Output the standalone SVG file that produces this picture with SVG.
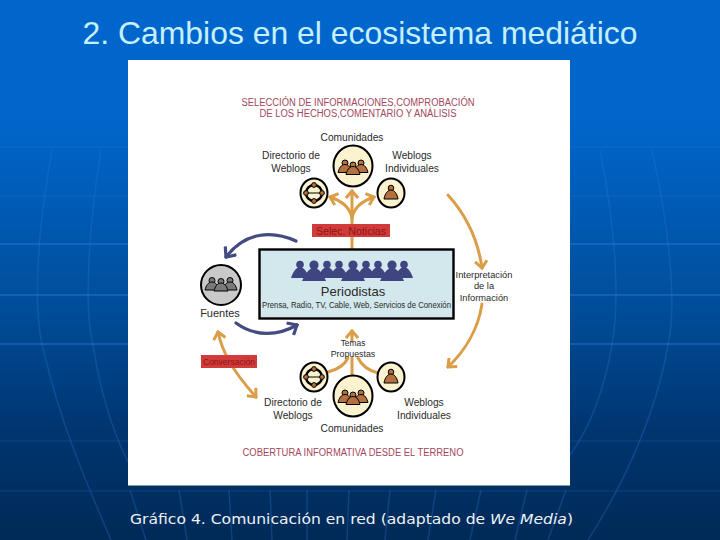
<svg xmlns="http://www.w3.org/2000/svg" width="720" height="540" viewBox="0 0 720 540">
<style>
text{font-family:"Liberation Sans",Arial,sans-serif;text-anchor:middle;fill:#2a2a2a}
.lb{font-size:10.2px}
.hd{font-size:10px;fill:#a2475e}
.sm{font-size:9.3px}
.tag{font-size:10.6px;fill:#8f1414}
.grid{fill:none;stroke:#2a78d8}
.o{fill:none;stroke:#dc9d48;stroke-width:3;stroke-linecap:round}
.b{fill:none;stroke:#454a80;stroke-width:3.2;stroke-linecap:round}
.ci{stroke:#000;stroke-width:2;fill:#fbf3cf}
.net{fill:none;stroke:#000;stroke-width:2.4}
</style>
<defs>
<linearGradient id="bg" x1="0" y1="0" x2="0" y2="1">
<stop offset="0" stop-color="#0066cc"/><stop offset=".22" stop-color="#0066cc"/><stop offset=".55" stop-color="#004f9c"/><stop offset=".8" stop-color="#00356f"/><stop offset="1" stop-color="#002a57"/>
</linearGradient>
<marker id="ao" viewBox="-8 -7 10 14" markerWidth="10" markerHeight="14" markerUnits="userSpaceOnUse" orient="auto"><path d="M-7,-6L0,0L-7,6" fill="none" stroke="#dc9d48" stroke-width="3"/></marker>
<marker id="ao2" viewBox="-8 -7 10 14" markerWidth="10" markerHeight="14" markerUnits="userSpaceOnUse" orient="auto-start-reverse"><path d="M-7,-6L0,0L-7,6" fill="none" stroke="#dc9d48" stroke-width="3"/></marker>
<marker id="ab" viewBox="-10 -8 12 16" markerWidth="12" markerHeight="16" markerUnits="userSpaceOnUse" orient="auto"><path d="M-8,-7L0,0L-8,7" fill="none" stroke="#454a80" stroke-width="3.2"/></marker>
<g id="p"><circle cx="0" cy="-9.500" r="3"/><path d="M-7,0C-6,-4 -4,-8 0,-8C4,-8 6,-4 7,0Z"/></g>
<g id="ps"><circle cx="0" cy="-13.500" r="3.800"/><path d="M-9,0C-7,-6 -4,-11 0,-11C4,-11 7,-6 9,0Z"/></g>
<g id="pl"><circle cx="0" cy="-16" r="4.600"/><path d="M-12,0C-9,-7 -5,-13 0,-13C5,-13 9,-7 12,0Z"/></g>
<g id="comm"><ellipse class="ci" cx="0" cy="0" rx="19.5" ry="20.5"/><g fill="#b4703f" stroke="#000" stroke-width="1"><use href="#p" x="-8" y="6.500"/><use href="#p" x="8" y="6.500"/><use href="#p" x="0" y="8.500"/></g></g>
<g id="blog"><ellipse class="ci" cx="0" cy="0" rx="13.5" ry="14.5"/><g fill="#b4703f" stroke="#000" stroke-width="1"><circle cy="-5" r="2.8"/><path d="M-7,6C-6,0 -3,-3 0,-3C3,-3 6,0 7,6Z"/></g></g>
<g id="dir"><ellipse class="ci" cx="0" cy="0" rx="13.5" ry="14.5"/><ellipse class="net" rx="8" ry="8"/><path d="M-8,0H8" stroke="#000" stroke-width="1"/><g fill="#b4703f" stroke="#000"><circle cy="-8" r="2.4"/><circle cy="8" r="2.4"/><circle cx="-8" r="2.4"/><circle cx="8" r="2.4"/></g></g>
</defs>
<rect id="background" width="720" height="540" fill="url(#bg)"/>
<g id="grid">
<g class="grid" stroke-width="1" opacity=".35"><path d="M0,147H720M0,196H720"/></g>
<g class="grid" stroke-width="1.5" opacity=".6"><path d="M0,244H720M0,295H720M0,344H720"/></g>
<g class="grid" stroke-width="1" opacity=".25"><path d="M0,441H720M0,491H720"/></g>
<g class="grid" stroke-width="1.5" opacity=".3">
<path d="M52,150C38,230 30,310 46,360C60,420 85,480 111,540"/>
<path d="M101,150C88,230 84,310 93,345C100,390 112,430 128,462"/>
<path d="M600,150C616,230 620,300 612,345C605,385 592,425 570,455"/>
<path d="M652,150C672,240 676,310 668,345C655,420 620,490 588,540"/>
<path d="M130,490L146,540M179,490L187,540M229,490L232,540M270,490L272,540M307,490L307,540M349,490L347,540M390,490L385,540M436,490L428,540M481,490L470,540M527,490L515,540M566,490L548,540"/>
</g>
</g>
<text id="title" x="360" y="44" style="font-size:32px;fill:#c6f0ff" textLength="555" lengthAdjust="spacingAndGlyphs">2. Cambios en el ecosistema mediático</text>
<rect id="panel" x="128" y="60" width="442" height="425.5" fill="#fff"/>
<text class="hd" x="358" y="106" textLength="233" lengthAdjust="spacingAndGlyphs">SELECCIÓN DE INFORMACIONES,COMPROBACIÓN</text>
<text class="hd" x="358" y="117" textLength="197" lengthAdjust="spacingAndGlyphs">DE LOS HECHOS,COMENTARIO Y ANÁLISIS</text>
<g id="connectors">
<path class="o" d="M352,249V191" marker-end="url(#ao)"/>
<path class="o" d="M352,218C350,207 342,201 330,197" marker-end="url(#ao)"/>
<path class="o" d="M352,218C354,207 362,201 374,197" marker-end="url(#ao)"/>
<path class="o" d="M448,195C466,215 478,240 482,268" marker-end="url(#ao)"/>
<path class="o" d="M482,304C478,330 464,352 448,367" marker-end="url(#ao)"/>
<path class="o" d="M218,332C222,350 230,368 256,397" marker-end="url(#ao)" marker-start="url(#ao2)"/>
<path class="o" d="M352,341V331" marker-end="url(#ao)"/>
<path class="o" d="M352,358V375"/>
<path class="o" d="M348,358C344,366 336,370 328,372"/>
<path class="o" d="M358,358C362,366 370,371 378,373"/>
<path class="b" d="M296,241C272,230 245,232 226,257" marker-end="url(#ab)"/>
<path class="b" d="M236,323C255,337 278,336 297,325" marker-end="url(#ab)"/>
</g>
<g id="comunidades-top"><use href="#comm" x="353" y="166"/><text class="lb" x="352" y="141">Comunidades</text></g>
<g id="directorio-top"><use href="#dir" x="314" y="193"/><text class="lb" x="291" y="159">Directorio de</text><text class="lb" x="291" y="172">Weblogs</text></g>
<g id="weblogs-top"><use href="#blog" x="391" y="193"/><text class="lb" x="412" y="159">Weblogs</text><text class="lb" x="412" y="172">Individuales</text></g>
<g id="selec"><rect x="312" y="224" width="78" height="13" fill="#d13c3a"/><text class="tag" x="351" y="234.500">Selec. Noticias</text></g>
<g id="periodistas">
<rect x="259.500" y="249.500" width="194" height="69" fill="#d2e8ec" stroke="#000" stroke-width="2.4"/>
<g fill="#3f4580">
<use href="#ps" x="300" y="278"/><use href="#ps" x="327" y="278"/><use href="#ps" x="339" y="278"/><use href="#ps" x="366" y="278"/><use href="#ps" x="378" y="278"/><use href="#ps" x="404" y="278"/>
<use href="#pl" x="314" y="281"/><use href="#pl" x="353" y="281"/><use href="#pl" x="392" y="281"/>
</g>
<text x="353" y="296" style="font-size:13px">Periodistas</text>
<text x="356.500" y="308" style="font-size:8.4px" textLength="189" lengthAdjust="spacingAndGlyphs">Prensa, Radio, TV, Cable, Web, Servicios de Conexión</text>
</g>
<g id="interpretacion"><text class="sm" x="484" y="278">Interpretación</text><text class="sm" x="484" y="289">de la</text><text class="sm" x="484" y="301">Información</text></g>
<g id="fuentes"><circle cx="221" cy="285" r="20" fill="#c9c9c9" stroke="#000" stroke-width="2"/><g fill="#7a7a7a" stroke="#000" stroke-width="1"><use href="#p" x="212" y="290"/><use href="#p" x="230" y="290"/><use href="#p" x="221" y="291"/></g><text x="220" y="317" style="font-size:11px">Fuentes</text></g>
<g id="conversacion"><rect x="201" y="355" width="56" height="13" fill="#d13c3a"/><text class="tag" x="229" y="365" style="font-size:9px" textLength="52" lengthAdjust="spacingAndGlyphs">Conversación</text></g>
<g id="temas"><text class="sm" x="353" y="346" style="font-size:8.4px">Temas</text><text class="sm" x="353" y="357" style="font-size:8.8px">Propuestas</text></g>
<g id="directorio-bottom"><use href="#dir" x="314" y="377"/><text class="lb" x="293" y="406">Directorio de</text><text class="lb" x="293" y="419">Weblogs</text></g>
<g id="weblogs-bottom"><use href="#blog" x="391" y="377"/><text class="lb" x="424" y="406">Weblogs</text><text class="lb" x="424" y="419">Individuales</text></g>
<g id="comunidades-bottom"><use href="#comm" x="353" y="396"/><text class="lb" x="352" y="432">Comunidades</text></g>
<text class="hd" x="353" y="456" textLength="221" lengthAdjust="spacingAndGlyphs">COBERTURA INFORMATIVA DESDE EL TERRENO</text>
<text id="caption" x="351.500" y="524" style="font-family:'DejaVu Sans',sans-serif;font-size:14.2px;fill:#eef2f6" textLength="443" lengthAdjust="spacingAndGlyphs">Gráfico 4. Comunicación en red (adaptado de <tspan font-style="italic">We Media</tspan>)</text>
</svg>
